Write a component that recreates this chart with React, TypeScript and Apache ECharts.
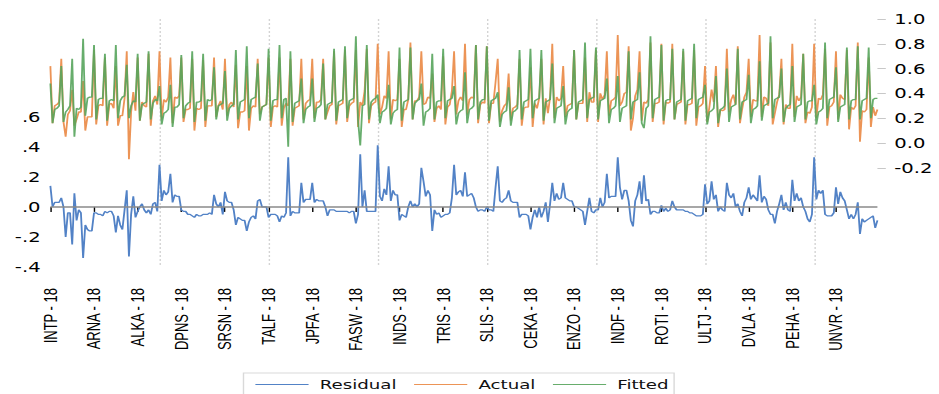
import React, { useEffect, useRef } from "react";
import * as echarts from "echarts";

// Firms whose first observation carries a visible tick label (every 4th firm, 5 obs per firm)
const labelFirms = ["INTP", "ARNA", "ALKA", "DPNS", "SRSN", "TALF", "JPFA", "FASW", "INDS", "TRIS",
  "SLIS", "CEKA", "ENZO", "INDF", "ROTI", "ULTJ", "DVLA", "PEHA", "UNVR"];

const residual = [
  0.14, 0.00, 0.03, 0.03, 0.03, 0.06, 0.00, -0.20, -0.04, -0.04,
  -0.25, 0.09, -0.09, -0.02, -0.04, -0.34, -0.12, -0.15, -0.16, -0.16,
  -0.04, -0.04, -0.05, -0.05, -0.06, -0.03, -0.04, -0.03, -0.03, -0.06,
  -0.17, -0.06, -0.12, -0.15, -0.02, 0.11, -0.33, -0.05, 0.07, -0.07,
  -0.03, 0.00, 0.02, -0.02, -0.04, -0.02, -0.05, 0.02, 0.03, -0.03,
  0.28, 0.04, 0.11, 0.08, 0.10, 0.22, 0.03, 0.08, 0.07, 0.07,
  -0.02, -0.03, -0.03, -0.05, -0.05, -0.06, -0.07, -0.05, -0.06, -0.06,
  -0.05, -0.05, -0.05, -0.04, -0.05, 0.08, 0.02, 0.00, 0.03, -0.05,
  0.10, 0.04, 0.03, 0.03, -0.02, -0.12, -0.07, -0.08, -0.09, -0.09,
  -0.16, -0.10, -0.07, -0.06, -0.08, 0.04, 0.05, 0.00, 0.00, 0.00,
  -0.07, -0.05, -0.05, -0.05, -0.06, -0.10, -0.06, -0.07, -0.04, 0.33,
  -0.06, -0.03, -0.04, -0.04, -0.04, 0.16, 0.03, 0.05, 0.05, 0.05,
  0.16, 0.03, 0.05, 0.04, 0.04, 0.04, 0.00, -0.06, -0.02, -0.02,
  -0.02, -0.03, -0.03, -0.03, -0.03, -0.03, -0.03, -0.04, -0.03, -0.03,
  -0.11, -0.05, 0.35, 0.00, 0.11, -0.03, -0.03, -0.03, -0.03, -0.03,
  0.41, 0.07, 0.04, 0.12, 0.08, 0.27, 0.04, 0.11, 0.08, 0.08,
  -0.09, -0.05, -0.06, -0.07, 0.00, 0.04, 0.00, 0.02, 0.00, 0.02,
  0.26, 0.17, 0.07, 0.11, 0.08, -0.16, -0.02, -0.05, -0.04, -0.07,
  -0.06, -0.05, -0.05, -0.04, 0.06, 0.28, 0.08, 0.10, 0.11, 0.07,
  0.23, 0.07, 0.08, 0.09, 0.06, 0.00, -0.03, -0.02, -0.02, -0.03,
  0.00, -0.02, -0.02, -0.03, 0.13, 0.27, 0.04, 0.03, 0.05, 0.06,
  0.11, 0.04, 0.03, 0.03, 0.03, -0.07, -0.05, -0.05, -0.05, -0.06,
  -0.15, -0.07, -0.02, -0.07, 0.00, -0.07, -0.03, 0.03, -0.10, 0.02,
  0.16, 0.04, 0.09, 0.05, 0.06, 0.16, 0.06, 0.05, 0.04, 0.04,
  0.00, 0.00, -0.01, -0.02, -0.03, -0.12, -0.03, 0.06, -0.03, -0.04,
  -0.02, -0.02, 0.06, 0.00, 0.03, 0.22, 0.06, 0.07, 0.07, 0.07,
  0.33, 0.13, 0.05, 0.11, 0.11, 0.04, -0.09, -0.13, 0.04, 0.08,
  0.17, 0.02, 0.21, 0.04, 0.05, -0.05, -0.03, -0.03, -0.04, -0.04,
  0.01, -0.03, -0.01, -0.03, -0.02, 0.04, 0.00, -0.02, -0.02, -0.02,
  -0.02, -0.03, -0.03, -0.04, -0.04, -0.05, -0.06, -0.06, -0.06, -0.05,
  0.15, 0.02, 0.04, 0.17, 0.05, 0.08, -0.03, 0.00, -0.02, -0.03,
  0.16, 0.08, 0.06, 0.09, 0.00, 0.02, -0.03, -0.06, 0.03, 0.06,
  0.13, 0.05, 0.08, 0.06, 0.04, 0.21, 0.03, 0.07, 0.05, -0.02,
  -0.05, -0.05, -0.11, -0.03, 0.02, 0.08, -0.02, 0.03, -0.02, -0.03,
  0.18, 0.04, 0.09, 0.04, 0.06, 0.00, -0.03, -0.08, -0.10, -0.05,
  0.33, 0.05, 0.11, 0.09, 0.11, -0.05, -0.06, -0.06, -0.06, -0.04,
  0.13, 0.02, 0.10, 0.06, 0.04, -0.02, -0.08, -0.05, -0.08, -0.05,
  0.03, -0.18, -0.08, -0.10, -0.09, -0.08, -0.07, -0.06, -0.14, -0.09,
];

const fitted = [
  0.48, 0.16, 0.27, 0.28, 0.30,
  0.62, 0.17, 0.25, 0.27, 0.30,
  0.68, 0.05, 0.28, 0.27, 0.29,
  0.84, 0.22, 0.36, 0.37, 0.37,
  0.79, 0.19, 0.35, 0.36, 0.36,
  0.72, 0.18, 0.34, 0.35, 0.34,
  0.79, 0.20, 0.34, 0.37, 0.38,
  0.63, 0.20, 0.30, 0.34, 0.33,
  0.72, 0.18, 0.31, 0.32, 0.33,
  0.74, 0.19, 0.32, 0.35, 0.34,
  0.46, 0.15, 0.24, 0.25, 0.27,
  0.47, 0.13, 0.29, 0.29, 0.31,
  0.71, 0.20, 0.30, 0.32, 0.33,
  0.74, 0.17, 0.33, 0.33, 0.34,
  0.72, 0.18, 0.35, 0.34, 0.35,
  0.61, 0.19, 0.30, 0.31, 0.32,
  0.58, 0.18, 0.28, 0.30, 0.31,
  0.75, 0.19, 0.33, 0.34, 0.35,
  0.78, 0.20, 0.35, 0.36, 0.37,
  0.64, 0.18, 0.29, 0.30, 0.31,
  0.76, 0.18, 0.34, 0.35, 0.35,
  0.79, 0.20, 0.35, 0.36, -0.03,
  0.74, 0.17, 0.32, 0.33, 0.34,
  0.52, 0.16, 0.27, 0.29, 0.30,
  0.52, 0.17, 0.28, 0.29, 0.31,
  0.64, 0.19, 0.31, 0.32, 0.33,
  0.76, 0.18, 0.33, 0.34, 0.35,
  0.78, 0.20, 0.34, 0.35, 0.36,
  0.86, 0.18, -0.02, 0.30, 0.31,
  0.79, 0.19, 0.33, 0.35, 0.36,
  0.39, 0.16, 0.25, 0.26, 0.28,
  0.47, 0.15, 0.24, 0.26, 0.27,
  0.77, 0.18, 0.33, 0.34, 0.35,
  0.77, 0.19, 0.32, 0.34, 0.35,
  0.48, 0.14, 0.25, 0.26, 0.28,
  0.72, 0.19, 0.33, 0.34, 0.34,
  0.76, 0.20, 0.34, 0.35, 0.36,
  0.46, 0.15, 0.24, 0.26, 0.27,
  0.57, 0.16, 0.27, 0.28, 0.30,
  0.79, 0.19, 0.33, 0.35, 0.35,
  0.78, 0.18, 0.34, 0.35, 0.36,
  0.41, 0.13, 0.23, 0.25, 0.26,
  0.45, 0.14, 0.25, 0.26, 0.28,
  0.75, 0.19, 0.33, 0.34, 0.35,
  0.76, 0.20, 0.34, 0.35, 0.36,
  0.75, 0.18, 0.33, 0.34, 0.35,
  0.64, 0.16, 0.28, 0.29, 0.30,
  0.46, 0.15, 0.25, 0.27, 0.28,
  0.75, 0.19, 0.33, 0.34, 0.35,
  0.81, 0.20, 0.35, 0.36, 0.37,
  0.77, 0.19, 0.34, 0.35, 0.36,
  0.52, 0.16, 0.27, 0.28, 0.30,
  0.54, 0.17, 0.28, 0.29, 0.30,
  0.74, 0.19, 0.33, 0.34, 0.35,
  0.57, 0.16, 0.12, 0.28, 0.30,
  0.86, 0.20, 0.35, 0.36, 0.37,
  0.79, 0.18, 0.34, 0.35, 0.35,
  0.76, 0.19, 0.33, 0.34, 0.35,
  0.76, 0.18, 0.34, 0.35, 0.36,
  0.80, 0.20, 0.35, 0.36, 0.37,
  0.47, 0.15, 0.25, 0.26, 0.28,
  0.54, 0.16, 0.27, 0.28, 0.30,
  0.60, 0.17, 0.29, 0.30, 0.31,
  0.76, 0.19, 0.33, 0.34, 0.35,
  0.55, 0.16, 0.27, 0.28, 0.30,
  0.66, 0.18, 0.30, 0.31, 0.32,
  0.86, 0.20, 0.35, 0.36, 0.37,
  0.60, 0.17, 0.28, 0.30, 0.31,
  0.62, 0.17, 0.29, 0.30, 0.31,
  0.72, 0.19, 0.33, 0.34, 0.34,
  0.47, 0.15, 0.25, 0.26, 0.28,
  0.81, 0.20, 0.35, 0.36, 0.37,
  0.61, 0.17, 0.29, 0.30, 0.31,
  0.77, 0.19, 0.34, 0.35, 0.35,
  0.78, 0.19, 0.34, 0.35, 0.36,
  0.77, 0.20, 0.35, 0.36, 0.36,
];

// Actual = Fitted + Residual
const actual = fitted.map((f, i) => Math.round((f + residual[i]) * 1000) / 1000);

const categories = residual.map((_, i) => {
  const k = Math.floor(i / 5);
  const yy = 18 + (i % 5);
  const firm = k % 4 === 0 ? labelFirms[k / 4] : `F${k + 1}`;
  return `${firm} - ${yy}`;
});

const leftTicks = [-0.4, -0.2, 0, 0.2, 0.4, 0.6];
const rightTicks = [-0.2, 0, 0.2, 0.4, 0.6, 0.8, 1.0];

const OUT_W = 939;
const OUT_H = 394;
const IN_W = 671;
const SX = OUT_W / IN_W;

export default function App() {
  const ref = useRef<HTMLDivElement>(null);
  useEffect(() => {
    if (!ref.current) return;
    const chart = echarts.init(ref.current, undefined, { renderer: "svg" });
    const fmtLeft = (v: number) => {
      if (v > 0.61 || v < -0.41) return "";
      const s = v.toFixed(1);
      return s.replace("0.", ".");
    };
    const fmtRight = (v: number) => {
      if (v < -0.21 || v > 1.01) return "";
      return v.toFixed(1);
    };
    chart.setOption({
      animation: false,
      backgroundColor: "#ffffff",
      textStyle: { fontFamily: "DejaVu Sans" },
      grid: { left: 36, right: 44, top: 19, bottom: 127 },
      legend: {
        data: ["Residual", "Actual", "Fitted"],
        left: 174,
        top: 373,
        padding: [5, 4, 10, 8],
        itemWidth: 38,
        itemHeight: 14,
        itemGap: 12,
        borderColor: "#d9d9d9",
        borderWidth: 1,
        itemStyle: { opacity: 0 },
        lineStyle: { width: 1 },
        textStyle: { fontFamily: "DejaVu Sans", fontSize: 13, color: "#111", padding: [0, 0, 0, 3] },
      },
      xAxis: {
        type: "category",
        data: categories,
        boundaryGap: false,
        offset: 9,
        axisLine: { show: false },
        axisTick: {
          show: true,
          interval: (i: number) => i % 20 === 0,
          length: 5,
          lineStyle: { color: "#000", width: 1 },
        },
        axisLabel: {
          interval: (i: number) => i % 20 === 0,
          rotate: 90,
          margin: 12,
          fontFamily: "Liberation Sans",
          fontSize: 13,
          color: "#000",
        },
        splitLine: {
          show: true,
          interval: (i: number) => i > 0 && i % 50 === 0,
          lineStyle: { color: "#d4d4d4", type: [2, 2], width: 1 },
        },
      },
      yAxis: [
        {
          type: "value",
          position: "left",
          min: -0.4,
          max: 1.25,
          interval: 0.2,
          axisLine: { show: false },
          axisTick: { show: false },
          splitLine: { show: false },
          axisLabel: {
            customValues: leftTicks,
            formatter: fmtLeft,
            fontFamily: "DejaVu Sans",
            fontSize: 14,
            color: "#000",
            margin: 7,
          },
        },
        {
          type: "value",
          position: "right",
          min: -1,
          max: 1,
          interval: 0.2,
          axisLine: { show: false },
          axisTick: {
            show: true,
            length: 6,
            customValues: rightTicks,
            lineStyle: { color: "#c8c8c8", width: 1 },
          },
          splitLine: { show: false },
          axisLabel: {
            customValues: rightTicks,
            formatter: fmtRight,
            fontFamily: "DejaVu Sans",
            fontSize: 14,
            color: "#000",
            margin: 12,
          },
        },
      ],
      series: [
        {
          name: "Residual",
          type: "line",
          yAxisIndex: 0,
          data: residual,
          symbol: "none",
          lineStyle: { color: "#5282c6", width: 1.3 },
          itemStyle: { color: "#5282c6" },
          markLine: {
            silent: true,
            symbol: ["none", "none"],
            label: { show: false },
            lineStyle: { color: "#8a8a8a", width: 1.5, type: "solid" },
            data: [{ yAxis: 0 }],
          },
        },
        {
          name: "Actual",
          type: "line",
          yAxisIndex: 1,
          data: actual,
          symbol: "none",
          lineStyle: { color: "#ec9456", width: 1.3 },
          itemStyle: { color: "#ec9456" },
        },
        {
          name: "Fitted",
          type: "line",
          yAxisIndex: 1,
          data: fitted,
          symbol: "none",
          lineStyle: { color: "#57a45c", width: 1.3, opacity: 0.9 },
          itemStyle: { color: "#57a45c" },
        },
      ],
    });
    return () => chart.dispose();
  }, []);

  return (
    <div style={{ position: "absolute", left: 0, top: 0, width: OUT_W, height: OUT_H, overflow: "hidden", background: "#fff" }}>
      <div
        ref={ref}
        style={{ width: IN_W, height: OUT_H, transform: `scaleX(${SX})`, transformOrigin: "0 0" }}
      />
    </div>
  );
}
